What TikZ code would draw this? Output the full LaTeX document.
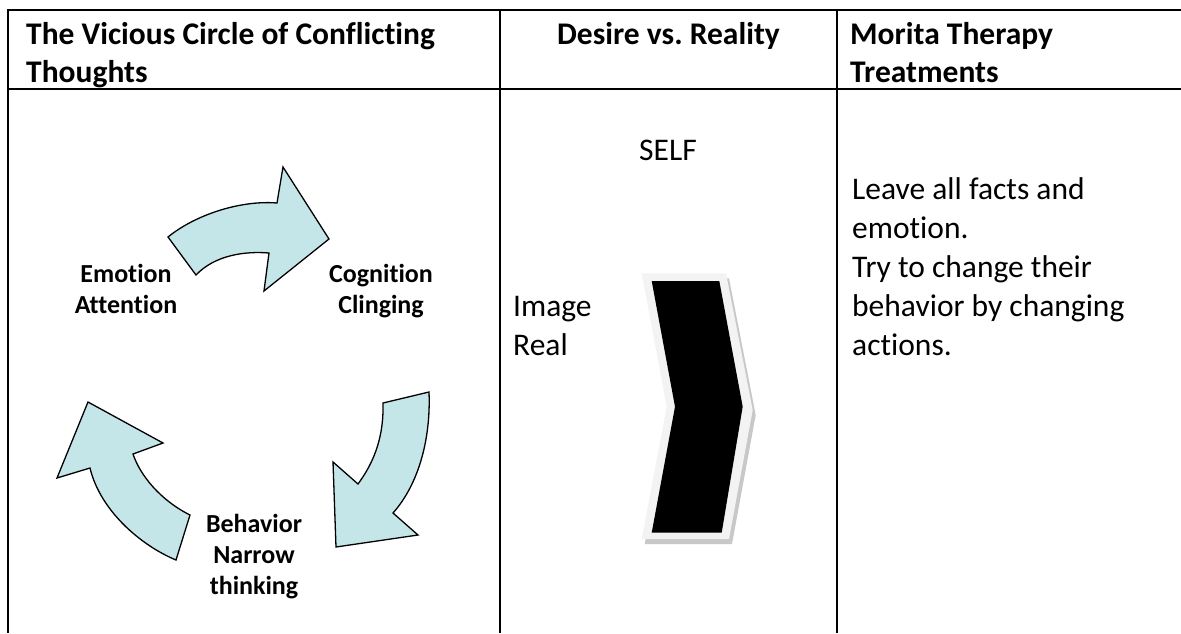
\documentclass[tikz,border=0pt]{standalone}
\usepackage{fontspec}
\setmainfont{Carlito}[Ligatures={NoCommon}]
\definecolor{arrowfill}{RGB}{197,230,233}
\definecolor{shadowgray}{RGB}{200,200,200}
\definecolor{rimgray}{RGB}{243,243,243}
\frenchspacing
\begin{document}
\begin{tikzpicture}[x=1pt,y=-1pt,
  tline/.style={line width=2pt, black},
  hdr/.style={font=\fontsize{31.5}{38}\selectfont\bfseries, inner sep=0pt},
  body/.style={font=\fontsize{31.5}{39}\selectfont, inner sep=0pt, anchor=base west},
  lbl/.style={font=\fontsize{26}{31}\selectfont\bfseries, inner sep=0pt, anchor=base},
  circarrow/.style={fill=arrowfill, draw=black, line width=1.3pt, line join=miter}]
\useasboundingbox (0,0) rectangle (1181,633);
\fill[white] (0,0) rectangle (1181,633);

% table rules
\draw[tline] (1181,10) -- (8,10) -- (8,633);
\draw[tline] (8,89.3) -- (1181,89.3);
\draw[tline] (499.5,10) -- (499.5,633);
\draw[tline] (836.7,10) -- (836.7,633);

% headers
\node[hdr, anchor=base west] (h1a) at (26,44) {The Vicious Circle of Conflicting};
\node[hdr, anchor=base west] (h1b) at (26,82.5) {Thoughts};
\node[hdr, anchor=base] (h2) at (668.5,44) {Desire vs. Reality};
\node[hdr, anchor=base west] (h3a) at (850,44) {Morita Therapy};
\node[hdr, anchor=base west] (h3b) at (850,82.5) {Treatments};

% circle arrows
\path[circarrow] (168,237) .. controls (195,215) and (240,200) .. (277,203)
  -- (283,167) -- (329,239) -- (264,291) -- (269,253)
  .. controls (245,251) and (215,255) .. (196,275) -- cycle;
\path[circarrow] (383,403) -- (429,392)
  .. controls (431,440) and (418,485) .. (393,513)
  -- (418,535) -- (336,547) -- (333,462) -- (358,484)
  .. controls (372,465) and (384,440) .. (383,403) -- cycle;
\path[circarrow] (176,560) .. controls (140,545) and (100,510) .. (90,468)
  -- (57,478) -- (88,402) -- (163,443) -- (133,454)
  .. controls (140,475) and (160,500) .. (190,515) -- cycle;

% circle labels
\node[lbl] (emo) at (126,282) {Emotion};
\node[lbl] (att) at (126,313) {Attention};
\node[lbl] (cog) at (381,282) {Cognition};
\node[lbl] (cli) at (381,313) {Clinging};
\node[lbl] (beh) at (254,532) {Behavior};
\node[lbl] (nar) at (254,563) {Narrow};
\node[lbl] (thi) at (254,594) {thinking};

% chevron
\begin{scope}[shift={(3,5)}]
\fill[shadowgray] (641.7,273.3) -- (726,273.3) -- (752.7,410) -- (729,539) -- (641.7,539) -- (666.7,406.7) -- cycle;
\end{scope}
\fill[rimgray] (641.7,273.3) -- (726,273.3) -- (752.7,410) -- (729,539) -- (641.7,539) -- (666.7,406.7) -- cycle;
\fill[black] (651.7,281) -- (719.3,281) -- (742.7,406.7) -- (721.7,532.7) -- (651.7,532.7) -- (675,406.7) -- cycle;

% column 2 texts
\node[body, anchor=base] (self) at (668,160.7) {SELF};
\node[body] (img) at (513,316) {Image};
\node[body] (real) at (513,355) {Real};

% column 3 texts
\node[body] (t1) at (852,199) {Leave all facts and};
\node[body] (t2) at (852,238.1) {emotion.};
\node[body] (t3) at (852,277.2) {Try to change their};
\node[body] (t4) at (852,316.3) {behavior by changing};
\node[body] (t5) at (852,355.4) {actions.};
\end{tikzpicture}
\end{document}
